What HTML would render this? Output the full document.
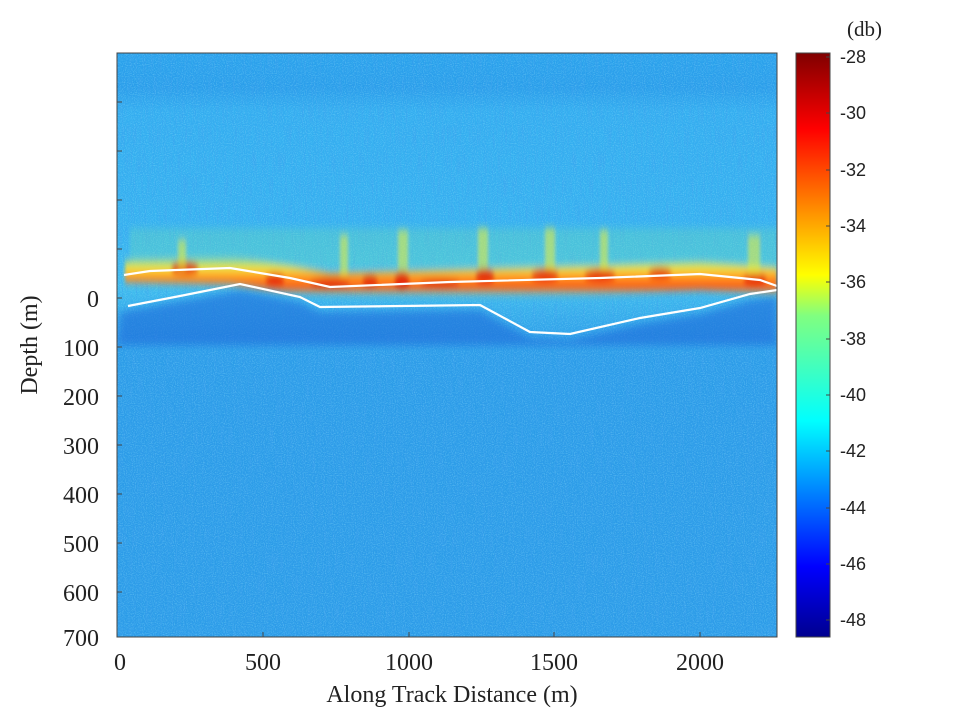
<!DOCTYPE html><html><head><style>body{margin:0;background:#fff}svg{display:block}text{font-family:"Liberation Serif",serif;fill:#222}.s{font-family:"Liberation Sans",sans-serif}</style></head><body>
<svg width="960" height="720" viewBox="0 0 960 720">
<defs>
<filter id="n" x="0" y="0" width="100%" height="100%"><feTurbulence type="fractalNoise" baseFrequency="0.8 0.04" numOctaves="2" seed="3"/><feColorMatrix values="0 0 0 0 0.05  0 0 0 0 0.35  0 0 0 0 0.85  0 0 0 2 -0.8"/></filter>
<filter id="n2" x="0" y="0" width="100%" height="100%"><feTurbulence type="fractalNoise" baseFrequency="0.9 0.9" numOctaves="1" seed="7"/><feColorMatrix values="0 0 0 0 0.35  0 0 0 0 0.85  0 0 0 0 1  0 0 0 2 -0.9"/></filter>
<filter id="b"><feGaussianBlur stdDeviation="4"/></filter>
<filter id="b2"><feGaussianBlur stdDeviation="1.5 4"/></filter>
<linearGradient id="cb" x1="0" y1="1" x2="0" y2="0">
<stop offset="0" stop-color="#00008f"/><stop offset="0.12" stop-color="#0000ff"/><stop offset="0.37" stop-color="#00ffff"/><stop offset="0.55" stop-color="#80ff80"/><stop offset="0.62" stop-color="#ffff00"/><stop offset="0.87" stop-color="#ff0000"/><stop offset="1" stop-color="#800000"/></linearGradient>
<linearGradient id="bg" x1="0" y1="0" x2="0" y2="1">
<stop offset="0" stop-color="#2aa2ec"/><stop offset="0.06" stop-color="#2a9eea"/><stop offset="0.1" stop-color="#34aef0"/><stop offset="0.3" stop-color="#36b2f0"/><stop offset="0.4" stop-color="#40beee"/><stop offset="0.5" stop-color="#2c9ce8"/><stop offset="1" stop-color="#2c9ce8"/></linearGradient>
<linearGradient id="band" x1="0" y1="0" x2="0" y2="1">
<stop offset="0" stop-color="#e8f040" stop-opacity="0"/><stop offset="0.3" stop-color="#f8e840"/><stop offset="0.55" stop-color="#ff9020"/><stop offset="0.8" stop-color="#ff5010"/><stop offset="1" stop-color="#f0e040" stop-opacity="0"/></linearGradient>
<clipPath id="c"><rect x="117" y="53" width="660" height="584"/></clipPath>
</defs>
<g clip-path="url(#c)">
<rect x="117" y="53" width="660" height="584" fill="url(#bg)"/>
<rect x="117" y="53" width="660" height="584" filter="url(#n)" opacity="0.55"/>
<rect x="117" y="53" width="660" height="584" filter="url(#n2)" opacity="0.45"/>
<path d="M120 312 L240 290 L300 302 L320 312 L480 310 L530 338 L570 340 L640 324 L700 314 L750 300 L777 296 L777 345 L117 345Z" fill="#1a6cda" opacity="0.6" filter="url(#b)"/>
<g filter="url(#b2)">
<rect x="130" y="228" width="647" height="40" fill="#70e0b0" opacity="0.3"/>
<path d="M125 260 L230 256 L290 266 L330 273 L450 270 L600 266 L700 262 L777 268 L777 294 L700 290 L600 294 L450 296 L330 294 L290 292 L230 284 L125 282Z" fill="url(#band)"/>
<g fill="#e01808" opacity="0.8">
<ellipse cx="185" cy="268" rx="14" ry="6"/><ellipse cx="275" cy="279" rx="10" ry="6"/><ellipse cx="330" cy="283" rx="20" ry="5"/><ellipse cx="370" cy="281" rx="8" ry="6"/><ellipse cx="402" cy="281" rx="8" ry="9"/><ellipse cx="485" cy="276" rx="10" ry="7"/><ellipse cx="545" cy="275" rx="14" ry="6"/><ellipse cx="600" cy="275" rx="16" ry="6"/><ellipse cx="660" cy="273" rx="12" ry="5"/><ellipse cx="755" cy="279" rx="12" ry="6"/><ellipse cx="440" cy="283" rx="20" ry="4"/></g>
<g fill="#e8f040" opacity="0.55"><rect x="398" y="230" width="10" height="40"/><rect x="478" y="228" width="10" height="40"/><rect x="545" y="228" width="10" height="40"/><rect x="600" y="230" width="8" height="40"/><rect x="748" y="235" width="12" height="40"/><rect x="340" y="235" width="8" height="40"/><rect x="178" y="240" width="8" height="30"/></g>
</g>
<polyline fill="none" stroke="#fff" stroke-width="2.2" points="124,275 150,271 230,268 290,278 330,287 450,282 600,278 700,274 760,280 777,286"/>
<polyline fill="none" stroke="#fff" stroke-width="2.2" points="128,306 180,296 240,284 300,297 320,307 480,305 530,332 570,334 640,318 700,308 750,294 777,290"/>
</g>
<rect x="117" y="53" width="660" height="584" fill="none" stroke="#444" stroke-width="1"/>
<g stroke="#444"><path d="M117 102h5M117 151h5M117 200h5M117 249h5M117 298h5M117 347h5M117 396h5M117 445h5M117 494h5M117 543h5M117 592h5M263 637v-5M409 637v-5M554 637v-5M700 637v-5"/></g>
<g font-size="24" text-anchor="end">
<text x="99" y="307">0</text><text x="99" y="356">100</text><text x="99" y="405">200</text><text x="99" y="454">300</text><text x="99" y="503">400</text><text x="99" y="552">500</text><text x="99" y="601">600</text><text x="99" y="646">700</text></g>
<g font-size="24" text-anchor="middle">
<text x="120" y="670">0</text><text x="263" y="670">500</text><text x="409" y="670">1000</text><text x="554" y="670">1500</text><text x="700" y="670">2000</text>
<text x="452" y="702">Along Track Distance (m)</text>
<text transform="translate(37 345) rotate(-90)">Depth (m)</text></g>
<rect x="796" y="53" width="34" height="584" fill="url(#cb)" stroke="#444"/>
<g stroke="#444"><path d="M830 57h-4M830 113h-4M830 170h-4M830 226h-4M830 282h-4M830 339h-4M830 395h-4M830 451h-4M830 508h-4M830 564h-4M830 620h-4"/></g>
<g font-size="18">
<text class="s" x="840" y="63">-28</text><text class="s" x="840" y="119">-30</text><text class="s" x="840" y="176">-32</text><text class="s" x="840" y="232">-34</text><text class="s" x="840" y="288">-36</text><text class="s" x="840" y="345">-38</text><text class="s" x="840" y="401">-40</text><text class="s" x="840" y="457">-42</text><text class="s" x="840" y="514">-44</text><text class="s" x="840" y="570">-46</text><text class="s" x="840" y="626">-48</text></g>
<text x="847" y="36" font-size="21">(db)</text>
</svg></body></html>
